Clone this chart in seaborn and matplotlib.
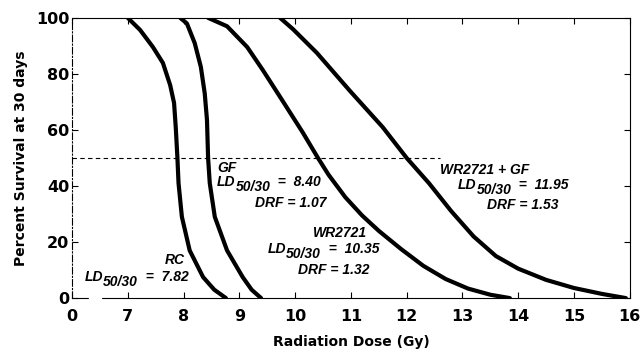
import numpy as np
import pandas as pd
import matplotlib
matplotlib.use('Agg')
import matplotlib.pyplot as plt
import seaborn as sns

# survival curves (dose in Gy, % survival at 30 days)
rc_dose = [7.0, 7.22, 7.45, 7.63, 7.76, 7.83, 7.86, 7.89, 7.91, 7.97, 8.11, 8.35, 8.55, 8.76]
rc_surv = [100, 95.7, 89.6, 83.9, 76, 69.6, 61, 50, 41, 29, 17, 7.5, 3, 0]

gf_dose = [7.94, 8.06, 8.20, 8.31, 8.38, 8.42, 8.44, 8.47, 8.56, 8.78, 9.06, 9.22, 9.39]
gf_surv = [100, 98, 91, 82.5, 73, 63.6, 50, 41, 29, 17, 7.5, 3, 0]

wr_dose = [8.44, 8.78, 9.14, 9.42, 9.73, 10.14, 10.41, 10.6, 10.9, 11.2, 11.5, 11.9, 12.3, 12.7, 13.1, 13.5, 13.85]
wr_surv = [100, 97, 89.6, 81.4, 71.8, 59, 50, 44, 36, 29.5, 24, 17.5, 11.5, 6.8, 3.4, 1.2, 0]

wrgf_dose = [9.73, 9.96, 10.39, 10.98, 11.57, 12.0, 12.4, 12.8, 13.2, 13.6, 14.0, 14.5, 15.0, 15.5, 15.93]
wrgf_surv = [100, 96, 87.5, 74, 61, 50, 41, 31, 22, 15, 10.5, 6.5, 3.6, 1.5, 0]

x_ticks = [6, 7, 8, 9, 10, 11, 12, 13, 14, 15, 16]
x_labels = ['0', '7', '8', '9', '10', '11', '12', '13', '14', '15', '16']
y_ticks = [0, 20, 40, 60, 80, 100]

df = pd.concat([
    pd.DataFrame({'dose': rc_dose, 'surv': rc_surv, 'group': 'RC'}),
    pd.DataFrame({'dose': gf_dose, 'surv': gf_surv, 'group': 'GF'}),
    pd.DataFrame({'dose': wr_dose, 'surv': wr_surv, 'group': 'WR2721'}),
    pd.DataFrame({'dose': wrgf_dose, 'surv': wrgf_surv, 'group': 'WR2721 + GF'}),
])

sns.set_style('ticks')
plt.rcParams['font.family'] = ['DejaVu Sans']
for k in ['text.color', 'axes.labelcolor', 'xtick.color', 'ytick.color', 'axes.edgecolor']:
    plt.rcParams[k] = 'black'

fig = plt.figure(figsize=(6.4, 3.57), dpi=100)
ax = fig.add_axes([0.1125, 0.165, 0.8715, 0.785])

sns.lineplot(data=df, x='dose', y='surv', hue='group', palette=['black'] * 4,
             legend=False, sort=False, estimator=None, lw=3, ax=ax)

# 50% reference line
ax.hlines(50, 6, 12.6, colors='black', linestyles=(0, (4, 3)), lw=0.8)

ax.set_xlim(6, 16)
ax.set_ylim(0, 100)
ax.set_xticks(x_ticks)
ax.set_xticklabels(x_labels)
ax.set_yticks(y_ticks)
ax.tick_params(direction='in', top=True, right=True, length=4, width=0.8,
               labelsize=11.5)
ax.tick_params(axis='x', pad=8)
ax.tick_params(axis='y', pad=2)
for lab in ax.get_xticklabels() + ax.get_yticklabels():
    lab.set_fontweight('bold')
for s in ax.spines.values():
    s.set_linewidth(0.8)
ax.spines['left'].set_linestyle((0, (6, 2, 1, 2)))

ax.set_xlabel('Radiation Dose (Gy)', fontsize=10, fontweight='bold', labelpad=8)
ax.set_ylabel('Percent Survival at 30 days', fontsize=10, fontweight='bold', labelpad=6)

# axis break near the origin
ax.plot([6.33, 6.5], [0, 0], color='white', lw=2.5, clip_on=False, zorder=5)

tkw = dict(fontsize=10, fontweight='bold', fontstyle='italic',
           family='Liberation Sans', color='black')


def ld_label(x, y, value):
    a = ax.annotate('LD', xy=(x, y), va='center', ha='left', **tkw)
    b = ax.annotate('50/30', xy=(1, 0), xycoords=a, xytext=(0, -3.5),
                    textcoords='offset points', va='bottom', ha='left', **tkw)
    ax.annotate('  =  ' + value, xy=(1, 0), xycoords=b, xytext=(0, 3.5),
                textcoords='offset points', va='bottom', ha='left', **tkw)


ax.text(7.85, 13.6, 'RC', ha='center', va='center', **tkw)
ld_label(6.23, 7.5, '7.82')
ax.text(8.60, 46.4, 'GF', ha='left', va='center', **tkw)
ld_label(8.60, 41.5, '8.40')
ax.text(10.57, 33.9, 'DRF = 1.07', ha='right', va='center', **tkw)
ax.text(11.29, 23.2, 'WR2721', ha='right', va='center', **tkw)
ld_label(9.51, 17.5, '10.35')
ax.text(10.05, 10.0, 'DRF = 1.32', ha='left', va='center', **tkw)
ax.text(12.59, 45.7, 'WR2721 + GF', ha='left', va='center', **tkw)
ld_label(12.92, 40.4, '11.95')
ax.text(13.44, 33.2, 'DRF = 1.53', ha='left', va='center', **tkw)

fig.savefig('out.png', dpi=100)
